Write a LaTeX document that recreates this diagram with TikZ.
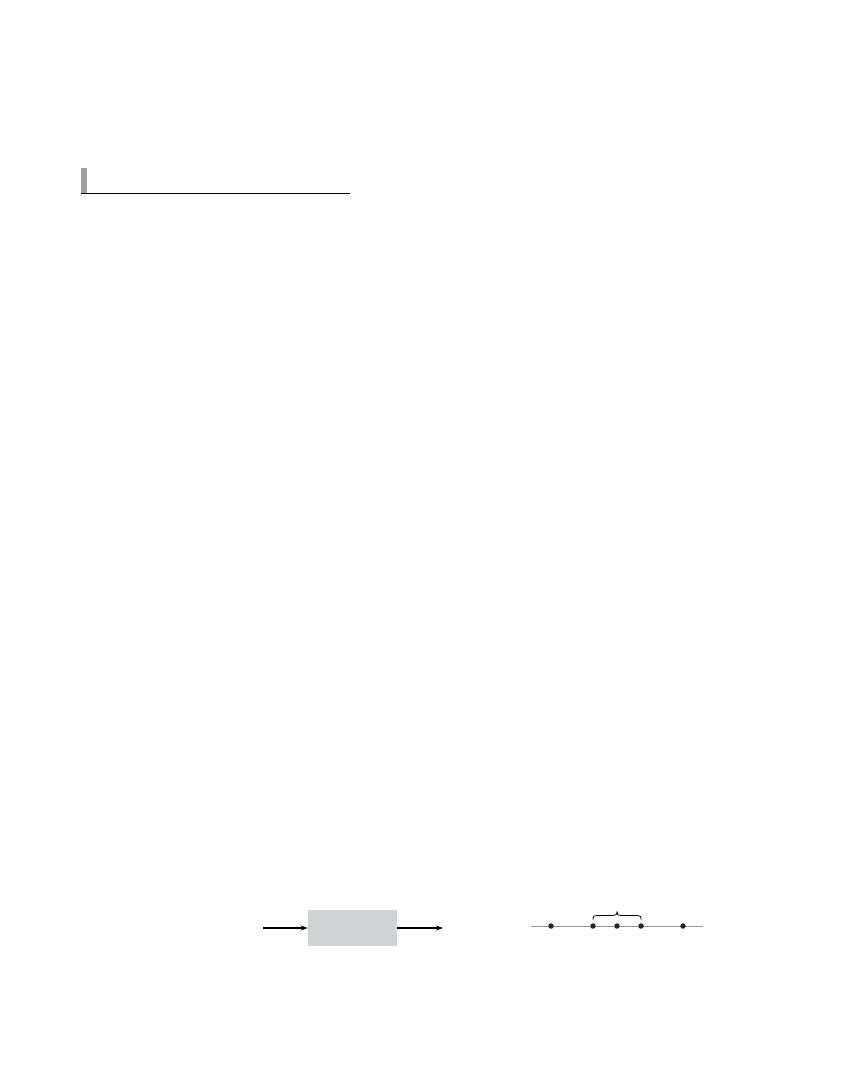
\documentclass[tikz,border=0pt]{standalone}
\usetikzlibrary{arrows.meta}
\definecolor{barg}{HTML}{A0A0A0}
\definecolor{boxg}{HTML}{D1D2D4}
\definecolor{lineg}{HTML}{9A9A9A}
\tikzset{
  dotn/.style={circle,fill=black!85,inner sep=0pt,minimum size=5.5pt},
  flowarrow/.style={line width=1.4pt,-{Stealth[length=7pt,width=5pt]}},
  procbox/.style={fill=boxg,draw=none,minimum width=89pt,minimum height=36pt,inner sep=0pt},
}
\begin{document}
\begin{tikzpicture}[x=1pt,y=-1pt]
\useasboundingbox (0,0) rectangle (864,1080);
% header
\fill[barg] (81,168) rectangle (86.5,193);
\coordinate (hl) at (81,193.5);
\coordinate (hr) at (350,193.5);
\draw[line width=1pt] (hl) -- (hr);
% block diagram
\node[procbox] (box) at (352.5,928) {};
\coordinate (in) at (263,928);
\coordinate (out) at (443,928);
\draw[flowarrow] (in) -- (box.west);
\draw[flowarrow] (box.east) -- (out);
% number line
\coordinate (nl) at (531,926);
\coordinate (nr) at (703,926);
\draw[lineg,line width=0.8pt] (nl) -- (nr);
\node[dotn] (d1) at (551,926) {};
\node[dotn] (d2) at (593,926) {};
\node[dotn] (d3) at (617,926) {};
\node[dotn] (d4) at (641,926) {};
\node[dotn] (d5) at (683,926) {};
\draw[line width=0.8pt] (593,919.5) .. controls (593,916) and (594,915.5) .. (597,915.5) -- (613,915.5) .. controls (616,915.5) and (617,914.5) .. (617,912) .. controls (617,914.5) and (618,915.5) .. (621,915.5) -- (637,915.5) .. controls (640,915.5) and (641,916) .. (641,919.5);
\end{tikzpicture}
\end{document}
